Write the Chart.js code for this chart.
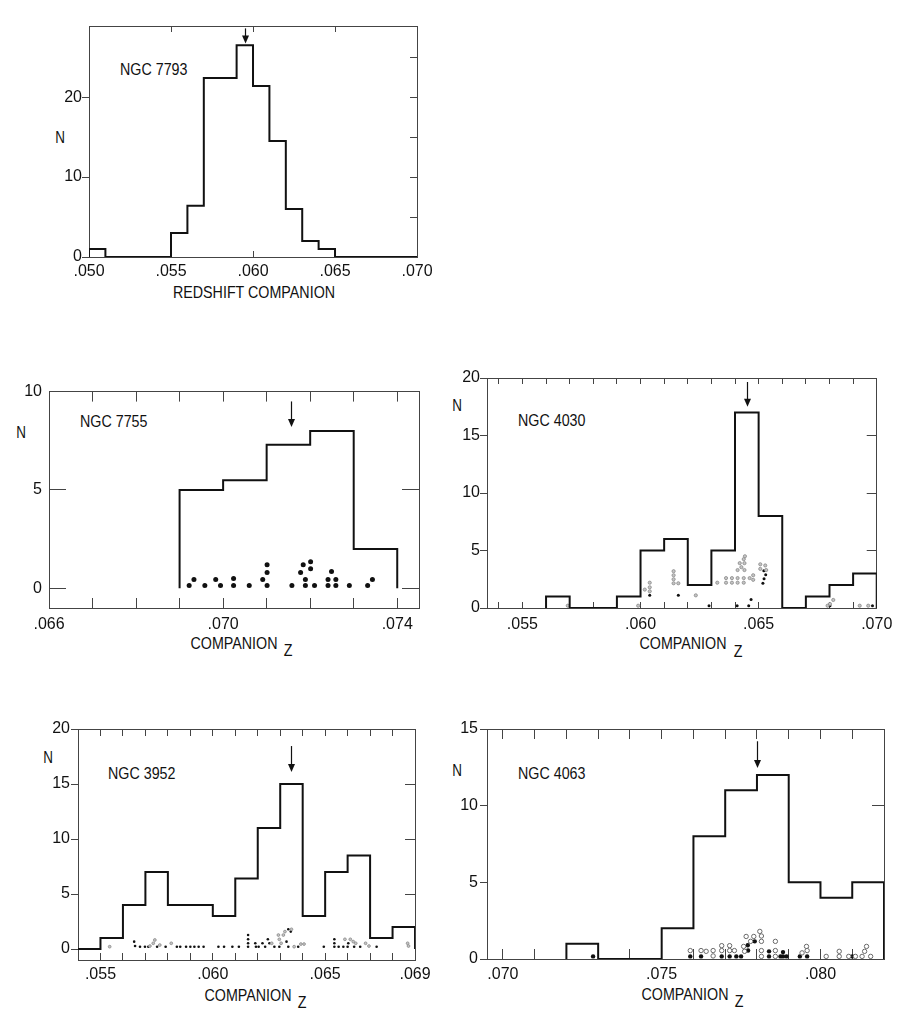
<!DOCTYPE html>
<html><head><meta charset="utf-8">
<script src="https://cdn.jsdelivr.net/npm/chart.js@4.4.1/dist/chart.umd.min.js"></script>
<style>
body{margin:0;background:#fff;width:914px;height:1024px;position:relative;overflow:hidden;font-family:'Liberation Sans',Arial,sans-serif;color:#111}
canvas{position:absolute}
.t{position:absolute;white-space:nowrap;font-size:17px;line-height:1;transform:translateY(-50%) scaleX(0.84);transform-origin:left center}
.c{transform:translate(-50%,-50%) scaleX(0.84);transform-origin:center center}
.n{font-size:16px}
</style></head><body>
<div class="t" style="left:120px;top:69px">NGC 7793</div>
<div class="t c n" style="left:60px;top:138px">N</div>
<div class="t c" style="left:254px;top:292px">REDSHIFT COMPANION</div>
<div class="t" style="left:80px;top:421px">NGC 7755</div>
<div class="t c n" style="left:21px;top:433px">N</div>
<div class="t c" style="left:234px;top:643px">COMPANION</div>
<div class="t c" style="left:288px;top:650px">Z</div>
<div class="t" style="left:518px;top:420px">NGC 4030</div>
<div class="t c n" style="left:457px;top:406px">N</div>
<div class="t c" style="left:683px;top:643px">COMPANION</div>
<div class="t c" style="left:738px;top:651px">Z</div>
<div class="t" style="left:108px;top:773px">NGC 3952</div>
<div class="t c n" style="left:48px;top:758px">N</div>
<div class="t c" style="left:248px;top:995px">COMPANION</div>
<div class="t c" style="left:302px;top:1002px">Z</div>
<div class="t" style="left:518px;top:773px">NGC 4063</div>
<div class="t c n" style="left:457px;top:771px">N</div>
<div class="t c" style="left:685px;top:994px">COMPANION</div>
<div class="t c" style="left:739px;top:1001px">Z</div>
<script>
// ---------------- DATA ----------------
const binWidth = 0.001;

// NGC 7793
const ngc7793BinLeft = [0.050,0.051,0.052,0.053,0.054,0.055,0.056,0.057,0.058,0.059,0.060,0.061,0.062,0.063,0.064,0.065,0.066,0.067,0.068,0.069];
const ngc7793Counts  = [1,0,0,0,0,3,6.4,22.4,22.4,26.5,21.4,14.5,6,2,1,0,0,0,0,0];
const ngc7793XLabels = ['.050','.055','.060','.065','.070'];
const ngc7793YLabels = [0,10,20];

// NGC 7755
const ngc7755BinLeft = [0.069,0.070,0.071,0.072,0.073];
const ngc7755Counts  = [5,5.5,7.3,8,2];
const ngc7755DotZ = [0.06922,0.06933,0.06958,0.06983,0.06994,0.07024,0.07024,0.07060,0.07091,0.07101,0.07101,0.07101,0.07158,0.07178,0.07184,0.07189,0.07189,0.07201,0.07201,0.07210,0.07241,0.07241,0.07249,0.07259,0.07259,0.07290,0.07332,0.07343];
const ngc7755DotN = [0.15,0.45,0.15,0.45,0.15,0.15,0.5,0.15,0.45,0.15,0.8,1.2,0.15,0.8,1.2,0.15,0.45,1.0,1.35,0.15,0.15,0.45,0.85,0.15,0.45,0.15,0.15,0.45];
const ngc7755XLabels = ['.066','.070','.074'];
const ngc7755YLabels = [0,5,10];

// NGC 4030
const ngc4030BinLeft = [0.056,0.057,0.058,0.059,0.060,0.061,0.062,0.063,0.064,0.065,0.066,0.067,0.068,0.069];
const ngc4030Counts  = [1,0,0,1,5,6,2,5,17,8,0,1,2,3];
const ngc4030GreyZ = [0.05692,0.05990,0.06018,0.06039,0.06039,0.06039,0.0614,0.0614,0.0614,0.0614,0.0616,0.06234,0.06325,0.06362,0.06362,0.06387,0.06387,0.06411,0.06411,0.06411,0.06420,0.06427,0.06437,0.06442,0.06440,0.06440,0.06437,0.06437,0.06462,0.06477,0.06477,0.06507,0.06507,0.06528,0.06532,0.06792,0.06802,0.06816,0.06928,0.06964];
const ngc4030GreyN = [0.2,0.2,1.6,2.2,1.8,1.45,3.2,2.85,2.5,2.15,2.15,1.1,2.2,2.6,2.2,2.6,2.2,3.3,2.6,2.2,3.9,3.55,4.25,4.5,3.9,3.3,2.6,2.2,2.6,2.85,2.45,3.8,3.4,3.7,3.3,0.2,0.35,0.7,0.2,0.2];
const ngc4030BlackZ = [0.06039,0.0616,0.06290,0.06409,0.06458,0.06468,0.06518,0.06523,0.06530,0.06522,0.06802,0.06982];
const ngc4030BlackN = [1.1,1.1,0.2,0.2,0.2,0.75,2.15,2.55,2.9,3.25,0.2,0.2];
const ngc4030XLabels = ['.055','.060','.065','.070'];
const ngc4030YLabels = [0,5,10,15,20];

// NGC 3952
const ngc3952BinLeft = [0.054,0.055,0.056,0.057,0.058,0.059,0.060,0.061,0.062,0.063,0.064,0.065,0.066,0.067,0.068];
const ngc3952Counts  = [0,1,4,7,4,4,3,6.4,11,15,3,7,8.5,1,2];
const ngc3952BlackZ = [0.05650,0.05654,0.05676,0.05698,0.05713,0.05752,0.05790,0.05840,0.05855,0.05881,0.05900,0.05918,0.05937,0.05959,0.06025,0.06050,0.06087,0.06116,0.06157,0.06157,0.06157,0.06157,0.06189,0.06192,0.06204,0.06221,0.06233,0.06245,0.06252,0.06274,0.06296,0.06336,0.06347,0.06328,0.06336,0.06380,0.06494,0.06541,0.06541,0.06541,0.06560,0.06581,0.06603,0.06600,0.06629,0.06656,0.06729];
const ngc3952BlackN = [0.67,0.27,0.21,0.21,0.21,0.21,0.21,0.21,0.21,0.21,0.21,0.21,0.21,0.21,0.21,0.21,0.21,0.21,1.27,0.88,0.52,0.21,0.52,0.21,0.21,0.52,0.21,0.88,0.52,0.21,0.21,1.79,1.58,0.67,0.21,0.21,0.21,0.88,0.52,0.21,0.21,0.21,0.52,0.21,0.21,0.21,0.21];
const ngc3952GreyZ = [0.05541,0.05720,0.05742,0.05735,0.05764,0.05815,0.06262,0.06292,0.06296,0.06304,0.06314,0.06321,0.06350,0.06362,0.06392,0.06406,0.06588,0.06612,0.06625,0.06636,0.06680,0.06695,0.06867,0.06871];
const ngc3952GreyN = [0.21,0.27,0.82,0.52,0.36,0.52,0.52,1.27,0.88,0.52,1.27,1.58,1.79,0.21,0.45,0.45,0.88,0.88,0.67,0.52,0.52,0.27,0.52,0.27];
const ngc3952XLabels = ['.055','.060','.065','.069'];
const ngc3952YLabels = [0,5,10,15,20];

// NGC 4063
const ngc4063BinLeft = [0.072,0.073,0.074,0.075,0.076,0.077,0.078,0.079,0.080,0.081];
const ngc4063Counts  = [1,0,0,2,8,11,12,5,4,5];
const ngc4063FilledZ = [0.07284,0.07590,0.07624,0.07689,0.07714,0.07735,0.07750,0.07771,0.07772,0.07793,0.07838,0.07838,0.07874,0.07882,0.07882,0.07893,0.07935,0.07958,0.08100];
const ngc4063FilledN = [0.17,0.17,0.17,0.17,0.17,0.17,0.17,0.9,0.55,1.15,0.5,0.17,0.17,0.45,0.17,0.17,0.17,0.17,0.17];
const ngc4063OpenZ = [0.07590,0.07624,0.07640,0.07662,0.07662,0.07689,0.07689,0.07714,0.07714,0.07729,0.07758,0.07761,0.07766,0.07780,0.07790,0.07809,0.07814,0.07814,0.07814,0.07814,0.07858,0.07858,0.07858,0.07942,0.07956,0.07958,0.08018,0.08059,0.08059,0.08089,0.08110,0.08131,0.08139,0.08145,0.08158];
const ngc4063OpenN = [0.55,0.55,0.5,0.55,0.2,0.87,0.55,0.87,0.55,0.55,0.82,0.5,1.47,1.15,1.47,1.8,1.5,1.15,0.55,0.17,1.15,0.55,0.17,0.4,0.82,0.55,0.17,0.5,0.17,0.17,0.17,0.17,0.5,0.82,0.17];
const ngc4063XLabels = ['.070','.075','.080'];
const ngc4063YLabels = [0,5,10,15];

// Arrows (galaxy redshift markers): panel order 7793, 7755, 4030, 3952, 4063
const arrowZ    = [0.0595, 0.07155, 0.0645, 0.0635, 0.0780];
const arrowTail = [28.6, 9.5, 19.65, 18.45, 14.2];
const arrowTip  = [26.7, 8.2, 17.5, 16.1, 12.45];

// ---------------- RENDER ----------------
const FONT = "'Liberation Sans',Arial,sans-serif";
const INK = '#111';
const FRAME = '#444';

function steps(a, b, s){ const r=[]; for(let v=a; v<=b+1e-9; v+=s) r.push(Math.round(v*1e5)/1e5); return r; }
function pts(zs, ns){ return zs.map((x,i)=>({x, y:ns[i]})); }
function histPts(left, counts){
  const p=[{x:left[0], y:0}];
  left.forEach((x,i)=>p.push({x, y:counts[i]}));
  p.push({x:Math.round((left[left.length-1]+binWidth)*1e5)/1e5, y:0});
  return p;
}
const fmtX = v => '.' + String(Math.round(v*1000)).padStart(3,'0');

const arrowPlugin = {
  id:'arrowMark',
  afterDatasetsDraw(chart, args, o){
    const ctx=chart.ctx, xs=chart.scales.x, ys=chart.scales.y;
    const px=Math.round(xs.getPixelForValue(o.z))+0.5, y1=ys.getPixelForValue(o.tail), y2=ys.getPixelForValue(o.tip);
    ctx.save();
    ctx.strokeStyle=INK; ctx.lineWidth=1.2;
    ctx.beginPath(); ctx.moveTo(px,y1); ctx.lineTo(px,y2-5); ctx.stroke();
    ctx.fillStyle=INK; ctx.beginPath();
    ctx.moveTo(px-3.5,y2-8); ctx.lineTo(px+3.5,y2-8); ctx.lineTo(px,y2); ctx.closePath(); ctx.fill();
    ctx.restore();
  }
};

function panel(o){
  const b=o.box;
  const W=b.R-b.L+85, H=b.B-b.T+60;
  const cv=document.createElement('canvas');
  cv.width=W; cv.height=H;
  cv.style.left=(b.L-60)+'px'; cv.style.top=(b.T-20)+'px';
  cv.style.width=W+'px'; cv.style.height=H+'px';
  document.body.appendChild(cv);
  const font={family:FONT, size:16};
  const grid=(tl)=>({display:true, drawOnChartArea:false, drawTicks:true, tickLength:tl, color:FRAME, lineWidth:1});
  const border={display:true, color:FRAME, width:1};
  new Chart(cv.getContext('2d'), {
    type:'line',
    data:{datasets:[
      {data:histPts(o.binLeft,o.counts), stepped:'before', borderColor:INK, borderWidth:2, pointRadius:0, fill:false, borderJoinStyle:'miter'},
      ...o.dots.map(d=>({data:d.data, showLine:false, pointRadius:d.r, pointBackgroundColor:d.fill, pointBorderColor:d.stroke, pointBorderWidth:d.bw}))
    ]},
    options:{
      responsive:false, animation:false, events:[],
      layout:{padding:{top:20,right:25,left:0,bottom:0}},
      plugins:{legend:{display:false}, tooltip:{enabled:false}, arrowMark:o.arrow},
      scales:{
        x:{type:'linear', position:'bottom', min:o.xMin, max:o.xMax,
           afterFit:s=>{s.height=40;}, afterBuildTicks:s=>{s.ticks=o.xTicks.map(v=>({value:v}));},
           grid:grid(-o.xtl), border,
           ticks:{autoSkip:false, maxRotation:0, padding:o.xpad, font, color:INK,
                  callback:v=>{const s=fmtX(v); return o.xLabels.includes(s)?s:'';}}},
        x2:{type:'linear', position:'top', min:o.xMin, max:o.xMax,
           afterFit:s=>{s.height=0;}, afterBuildTicks:s=>{s.ticks=o.xTicks.map(v=>({value:v}));},
           grid:grid(-o.xtl), border, ticks:{display:false}},
        y:{type:'linear', position:'left', min:o.yMin, max:o.yMax,
           afterFit:s=>{s.width=60;}, afterBuildTicks:s=>{s.ticks=o.yLabels.map(v=>({value:v}));},
           grid:grid(o.ytl), border,
           ticks:{padding:o.ypad, font, color:INK, callback:v=>String(v)}},
        y2:{type:'linear', position:'right', min:o.yMin, max:o.yMax,
           afterFit:s=>{s.width=0;}, afterBuildTicks:s=>{s.ticks=o.yRight.map(v=>({value:v}));},
           grid:grid(-o.y2tl), border, ticks:{display:false}}
      }
    },
    plugins:[arrowPlugin]
  });
}

const blackDot=(data,r)=>({data, r, fill:INK, stroke:INK, bw:0});
const greyDot=(data,r)=>({data, r, fill:'#c4c4c4', stroke:'#8a8a8a', bw:0.8});
const openDot=(data,r)=>({data, r, fill:'#fff', stroke:'#6a6a6a', bw:1});

panel({box:{L:89,T:26,R:419,B:257}, xMin:0.050, xMax:0.070, yMin:0, yMax:28.9,
  binLeft:ngc7793BinLeft, counts:ngc7793Counts, dots:[],
  xTicks:steps(0.050,0.070,0.005), xLabels:ngc7793XLabels, xtl:6, xpad:11.4,
  yLabels:ngc7793YLabels, ytl:7, ypad:0, yRight:[5,10,15,20,25], y2tl:7,
  arrow:{z:arrowZ[0], tail:arrowTail[0], tip:arrowTip[0]}});

panel({box:{L:49,T:378,R:419,B:608}, xMin:0.066, xMax:0.0745, yMin:-1, yMax:10,
  binLeft:ngc7755BinLeft, counts:ngc7755Counts, dots:[blackDot(pts(ngc7755DotZ,ngc7755DotN),2.5)],
  xTicks:steps(0.066,0.074,0.001), xLabels:ngc7755XLabels, xtl:10, xpad:16.7,
  yLabels:ngc7755YLabels, ytl:-17, ypad:24, yRight:[0,5], y2tl:17,
  arrow:{z:arrowZ[1], tail:arrowTail[1], tip:arrowTip[1]}});

panel({box:{L:487,T:378,R:880,B:608}, xMin:0.0535, xMax:0.070, yMin:0, yMax:20,
  binLeft:ngc4030BinLeft, counts:ngc4030Counts,
  dots:[greyDot(pts(ngc4030GreyZ,ngc4030GreyN),1.6), blackDot(pts(ngc4030BlackZ,ngc4030BlackN),1.5)],
  xTicks:steps(0.054,0.070,0.001), xLabels:ngc4030XLabels, xtl:6, xpad:12.7,
  yLabels:ngc4030YLabels, ytl:7, ypad:0, yRight:[5,10,15], y2tl:10,
  arrow:{z:arrowZ[2], tail:arrowTail[2], tip:arrowTip[2]}});

panel({box:{L:78,T:729,R:418,B:960}, xMin:0.054, xMax:0.069, yMin:-1, yMax:20,
  binLeft:ngc3952BinLeft, counts:ngc3952Counts,
  dots:[greyDot(pts(ngc3952GreyZ,ngc3952GreyN),1.4), blackDot(pts(ngc3952BlackZ,ngc3952BlackN),1.3)],
  xTicks:steps(0.054,0.069,0.001), xLabels:ngc3952XLabels, xtl:7, xpad:12.4,
  yLabels:ngc3952YLabels, ytl:7, ypad:1, yRight:[5,10,15], y2tl:10,
  arrow:{z:arrowZ[3], tail:arrowTail[3], tip:arrowTip[3]}});

panel({box:{L:487,T:729,R:884,B:959}, xMin:0.0695, xMax:0.082, yMin:0, yMax:15,
  binLeft:ngc4063BinLeft, counts:ngc4063Counts,
  dots:[openDot(pts(ngc4063OpenZ,ngc4063OpenN),2.2), blackDot(pts(ngc4063FilledZ,ngc4063FilledN),2.2)],
  xTicks:steps(0.070,0.082,0.001), xLabels:ngc4063XLabels, xtl:10, xpad:16.4,
  yLabels:ngc4063YLabels, ytl:7, ypad:2, yRight:[5,10], y2tl:12,
  arrow:{z:arrowZ[4], tail:arrowTail[4], tip:arrowTip[4]}});
</script>
</body></html>
